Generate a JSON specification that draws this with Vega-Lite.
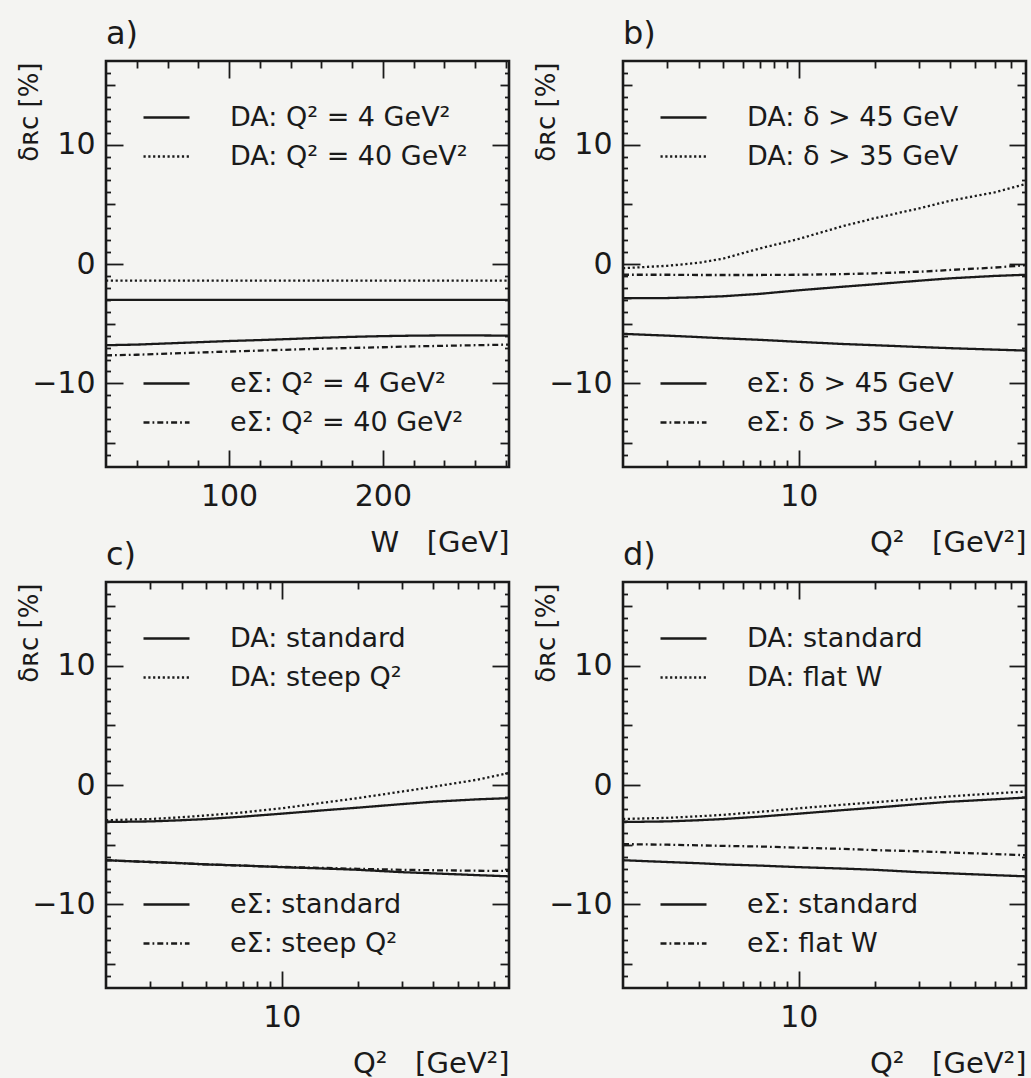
{
"$schema": "https://vega.github.io/schema/vega-lite/v6.json",
"background": "#f4f4f2",
"padding": {"left": 14, "top": 16, "right": 0, "bottom": 0},
"datasets": {
"a": [
{"x":20,"y":-3.0,"g":"DA","s":"DA: Q² = 4 GeV²"},{"x":100,"y":-3.0,"g":"DA","s":"DA: Q² = 4 GeV²"},{"x":200,"y":-3.0,"g":"DA","s":"DA: Q² = 4 GeV²"},{"x":282,"y":-3.0,"g":"DA","s":"DA: Q² = 4 GeV²"},
{"x":20,"y":-1.4,"g":"DA","s":"DA: Q² = 40 GeV²"},{"x":100,"y":-1.4,"g":"DA","s":"DA: Q² = 40 GeV²"},{"x":200,"y":-1.4,"g":"DA","s":"DA: Q² = 40 GeV²"},{"x":282,"y":-1.4,"g":"DA","s":"DA: Q² = 40 GeV²"},
{"x":20,"y":-6.8,"g":"ES","s":"eΣ: Q² = 4 GeV²"},{"x":40,"y":-6.75,"g":"ES","s":"eΣ: Q² = 4 GeV²"},{"x":60,"y":-6.65,"g":"ES","s":"eΣ: Q² = 4 GeV²"},{"x":80,"y":-6.55,"g":"ES","s":"eΣ: Q² = 4 GeV²"},{"x":100,"y":-6.45,"g":"ES","s":"eΣ: Q² = 4 GeV²"},{"x":120,"y":-6.37,"g":"ES","s":"eΣ: Q² = 4 GeV²"},{"x":140,"y":-6.28,"g":"ES","s":"eΣ: Q² = 4 GeV²"},{"x":160,"y":-6.18,"g":"ES","s":"eΣ: Q² = 4 GeV²"},{"x":180,"y":-6.1,"g":"ES","s":"eΣ: Q² = 4 GeV²"},{"x":200,"y":-6.04,"g":"ES","s":"eΣ: Q² = 4 GeV²"},{"x":220,"y":-6.0,"g":"ES","s":"eΣ: Q² = 4 GeV²"},{"x":240,"y":-5.98,"g":"ES","s":"eΣ: Q² = 4 GeV²"},{"x":260,"y":-5.98,"g":"ES","s":"eΣ: Q² = 4 GeV²"},{"x":282,"y":-6.0,"g":"ES","s":"eΣ: Q² = 4 GeV²"},
{"x":20,"y":-7.65,"g":"ES","s":"eΣ: Q² = 40 GeV²"},{"x":40,"y":-7.6,"g":"ES","s":"eΣ: Q² = 40 GeV²"},{"x":60,"y":-7.5,"g":"ES","s":"eΣ: Q² = 40 GeV²"},{"x":80,"y":-7.42,"g":"ES","s":"eΣ: Q² = 40 GeV²"},{"x":100,"y":-7.33,"g":"ES","s":"eΣ: Q² = 40 GeV²"},{"x":120,"y":-7.25,"g":"ES","s":"eΣ: Q² = 40 GeV²"},{"x":140,"y":-7.17,"g":"ES","s":"eΣ: Q² = 40 GeV²"},{"x":160,"y":-7.1,"g":"ES","s":"eΣ: Q² = 40 GeV²"},{"x":180,"y":-7.03,"g":"ES","s":"eΣ: Q² = 40 GeV²"},{"x":200,"y":-6.97,"g":"ES","s":"eΣ: Q² = 40 GeV²"},{"x":220,"y":-6.9,"g":"ES","s":"eΣ: Q² = 40 GeV²"},{"x":240,"y":-6.85,"g":"ES","s":"eΣ: Q² = 40 GeV²"},{"x":260,"y":-6.8,"g":"ES","s":"eΣ: Q² = 40 GeV²"},{"x":282,"y":-6.75,"g":"ES","s":"eΣ: Q² = 40 GeV²"}
],
"b": [
{"x":2,"y":-2.87,"g":"DA","s":"DA: δ > 45 GeV"},{"x":3,"y":-2.85,"g":"DA","s":"DA: δ > 45 GeV"},{"x":4,"y":-2.78,"g":"DA","s":"DA: δ > 45 GeV"},{"x":5,"y":-2.7,"g":"DA","s":"DA: δ > 45 GeV"},{"x":7,"y":-2.5,"g":"DA","s":"DA: δ > 45 GeV"},{"x":10,"y":-2.2,"g":"DA","s":"DA: δ > 45 GeV"},{"x":15,"y":-1.9,"g":"DA","s":"DA: δ > 45 GeV"},{"x":20,"y":-1.7,"g":"DA","s":"DA: δ > 45 GeV"},{"x":30,"y":-1.4,"g":"DA","s":"DA: δ > 45 GeV"},{"x":40,"y":-1.2,"g":"DA","s":"DA: δ > 45 GeV"},{"x":60,"y":-1.0,"g":"DA","s":"DA: δ > 45 GeV"},{"x":80,"y":-0.9,"g":"DA","s":"DA: δ > 45 GeV"},
{"x":2,"y":-0.35,"g":"DA","s":"DA: δ > 35 GeV"},{"x":3,"y":-0.15,"g":"DA","s":"DA: δ > 35 GeV"},{"x":4,"y":0.1,"g":"DA","s":"DA: δ > 35 GeV"},{"x":5,"y":0.45,"g":"DA","s":"DA: δ > 35 GeV"},{"x":7,"y":1.3,"g":"DA","s":"DA: δ > 35 GeV"},{"x":10,"y":2.1,"g":"DA","s":"DA: δ > 35 GeV"},{"x":15,"y":3.18,"g":"DA","s":"DA: δ > 35 GeV"},{"x":20,"y":3.83,"g":"DA","s":"DA: δ > 35 GeV"},{"x":30,"y":4.65,"g":"DA","s":"DA: δ > 35 GeV"},{"x":40,"y":5.3,"g":"DA","s":"DA: δ > 35 GeV"},{"x":60,"y":6.0,"g":"DA","s":"DA: δ > 35 GeV"},{"x":80,"y":6.7,"g":"DA","s":"DA: δ > 35 GeV"},
{"x":2,"y":-5.85,"g":"ES","s":"eΣ: δ > 45 GeV"},{"x":3,"y":-6.0,"g":"ES","s":"eΣ: δ > 45 GeV"},{"x":4,"y":-6.12,"g":"ES","s":"eΣ: δ > 45 GeV"},{"x":5,"y":-6.22,"g":"ES","s":"eΣ: δ > 45 GeV"},{"x":7,"y":-6.35,"g":"ES","s":"eΣ: δ > 45 GeV"},{"x":10,"y":-6.52,"g":"ES","s":"eΣ: δ > 45 GeV"},{"x":15,"y":-6.7,"g":"ES","s":"eΣ: δ > 45 GeV"},{"x":20,"y":-6.8,"g":"ES","s":"eΣ: δ > 45 GeV"},{"x":30,"y":-6.95,"g":"ES","s":"eΣ: δ > 45 GeV"},{"x":40,"y":-7.05,"g":"ES","s":"eΣ: δ > 45 GeV"},{"x":60,"y":-7.17,"g":"ES","s":"eΣ: δ > 45 GeV"},{"x":80,"y":-7.25,"g":"ES","s":"eΣ: δ > 45 GeV"},
{"x":2,"y":-0.9,"g":"ES","s":"eΣ: δ > 35 GeV"},{"x":3,"y":-0.9,"g":"ES","s":"eΣ: δ > 35 GeV"},{"x":4,"y":-0.92,"g":"ES","s":"eΣ: δ > 35 GeV"},{"x":5,"y":-0.92,"g":"ES","s":"eΣ: δ > 35 GeV"},{"x":7,"y":-0.92,"g":"ES","s":"eΣ: δ > 35 GeV"},{"x":10,"y":-0.9,"g":"ES","s":"eΣ: δ > 35 GeV"},{"x":15,"y":-0.85,"g":"ES","s":"eΣ: δ > 35 GeV"},{"x":20,"y":-0.78,"g":"ES","s":"eΣ: δ > 35 GeV"},{"x":30,"y":-0.65,"g":"ES","s":"eΣ: δ > 35 GeV"},{"x":40,"y":-0.5,"g":"ES","s":"eΣ: δ > 35 GeV"},{"x":60,"y":-0.3,"g":"ES","s":"eΣ: δ > 35 GeV"},{"x":80,"y":-0.1,"g":"ES","s":"eΣ: δ > 35 GeV"}
],
"c": [
{"x":2,"y":-3.1,"g":"DA","s":"DA: standard"},{"x":3,"y":-3.05,"g":"DA","s":"DA: standard"},{"x":4,"y":-2.95,"g":"DA","s":"DA: standard"},{"x":5,"y":-2.85,"g":"DA","s":"DA: standard"},{"x":7,"y":-2.65,"g":"DA","s":"DA: standard"},{"x":10,"y":-2.4,"g":"DA","s":"DA: standard"},{"x":15,"y":-2.1,"g":"DA","s":"DA: standard"},{"x":20,"y":-1.9,"g":"DA","s":"DA: standard"},{"x":30,"y":-1.6,"g":"DA","s":"DA: standard"},{"x":40,"y":-1.4,"g":"DA","s":"DA: standard"},{"x":60,"y":-1.2,"g":"DA","s":"DA: standard"},{"x":80,"y":-1.1,"g":"DA","s":"DA: standard"},
{"x":2,"y":-2.95,"g":"DA","s":"DA: steep Q²"},{"x":3,"y":-2.85,"g":"DA","s":"DA: steep Q²"},{"x":4,"y":-2.7,"g":"DA","s":"DA: steep Q²"},{"x":5,"y":-2.55,"g":"DA","s":"DA: steep Q²"},{"x":7,"y":-2.3,"g":"DA","s":"DA: steep Q²"},{"x":10,"y":-1.95,"g":"DA","s":"DA: steep Q²"},{"x":15,"y":-1.45,"g":"DA","s":"DA: steep Q²"},{"x":20,"y":-1.1,"g":"DA","s":"DA: steep Q²"},{"x":30,"y":-0.55,"g":"DA","s":"DA: steep Q²"},{"x":40,"y":-0.15,"g":"DA","s":"DA: steep Q²"},{"x":60,"y":0.45,"g":"DA","s":"DA: steep Q²"},{"x":80,"y":1.0,"g":"DA","s":"DA: steep Q²"},
{"x":2,"y":-6.3,"g":"ES","s":"eΣ: standard"},{"x":3,"y":-6.45,"g":"ES","s":"eΣ: standard"},{"x":4,"y":-6.55,"g":"ES","s":"eΣ: standard"},{"x":5,"y":-6.65,"g":"ES","s":"eΣ: standard"},{"x":7,"y":-6.75,"g":"ES","s":"eΣ: standard"},{"x":10,"y":-6.88,"g":"ES","s":"eΣ: standard"},{"x":15,"y":-7.0,"g":"ES","s":"eΣ: standard"},{"x":20,"y":-7.1,"g":"ES","s":"eΣ: standard"},{"x":30,"y":-7.3,"g":"ES","s":"eΣ: standard"},{"x":40,"y":-7.4,"g":"ES","s":"eΣ: standard"},{"x":60,"y":-7.55,"g":"ES","s":"eΣ: standard"},{"x":80,"y":-7.65,"g":"ES","s":"eΣ: standard"},
{"x":2,"y":-6.3,"g":"ES","s":"eΣ: steep Q²"},{"x":3,"y":-6.45,"g":"ES","s":"eΣ: steep Q²"},{"x":4,"y":-6.55,"g":"ES","s":"eΣ: steep Q²"},{"x":5,"y":-6.65,"g":"ES","s":"eΣ: steep Q²"},{"x":7,"y":-6.75,"g":"ES","s":"eΣ: steep Q²"},{"x":10,"y":-6.86,"g":"ES","s":"eΣ: steep Q²"},{"x":15,"y":-6.95,"g":"ES","s":"eΣ: steep Q²"},{"x":20,"y":-7.02,"g":"ES","s":"eΣ: steep Q²"},{"x":30,"y":-7.1,"g":"ES","s":"eΣ: steep Q²"},{"x":40,"y":-7.14,"g":"ES","s":"eΣ: steep Q²"},{"x":60,"y":-7.18,"g":"ES","s":"eΣ: steep Q²"},{"x":80,"y":-7.2,"g":"ES","s":"eΣ: steep Q²"}
],
"d": [
{"x":2,"y":-3.1,"g":"DA","s":"DA: standard"},{"x":3,"y":-3.05,"g":"DA","s":"DA: standard"},{"x":4,"y":-2.95,"g":"DA","s":"DA: standard"},{"x":5,"y":-2.85,"g":"DA","s":"DA: standard"},{"x":7,"y":-2.65,"g":"DA","s":"DA: standard"},{"x":10,"y":-2.4,"g":"DA","s":"DA: standard"},{"x":15,"y":-2.1,"g":"DA","s":"DA: standard"},{"x":20,"y":-1.9,"g":"DA","s":"DA: standard"},{"x":30,"y":-1.6,"g":"DA","s":"DA: standard"},{"x":40,"y":-1.4,"g":"DA","s":"DA: standard"},{"x":60,"y":-1.2,"g":"DA","s":"DA: standard"},{"x":80,"y":-1.05,"g":"DA","s":"DA: standard"},
{"x":2,"y":-2.85,"g":"DA","s":"DA: flat W"},{"x":3,"y":-2.75,"g":"DA","s":"DA: flat W"},{"x":4,"y":-2.62,"g":"DA","s":"DA: flat W"},{"x":5,"y":-2.5,"g":"DA","s":"DA: flat W"},{"x":7,"y":-2.25,"g":"DA","s":"DA: flat W"},{"x":10,"y":-1.95,"g":"DA","s":"DA: flat W"},{"x":15,"y":-1.65,"g":"DA","s":"DA: flat W"},{"x":20,"y":-1.45,"g":"DA","s":"DA: flat W"},{"x":30,"y":-1.15,"g":"DA","s":"DA: flat W"},{"x":40,"y":-0.95,"g":"DA","s":"DA: flat W"},{"x":60,"y":-0.7,"g":"DA","s":"DA: flat W"},{"x":80,"y":-0.55,"g":"DA","s":"DA: flat W"},
{"x":2,"y":-6.3,"g":"ES","s":"eΣ: standard"},{"x":3,"y":-6.45,"g":"ES","s":"eΣ: standard"},{"x":4,"y":-6.55,"g":"ES","s":"eΣ: standard"},{"x":5,"y":-6.65,"g":"ES","s":"eΣ: standard"},{"x":7,"y":-6.75,"g":"ES","s":"eΣ: standard"},{"x":10,"y":-6.88,"g":"ES","s":"eΣ: standard"},{"x":15,"y":-7.0,"g":"ES","s":"eΣ: standard"},{"x":20,"y":-7.1,"g":"ES","s":"eΣ: standard"},{"x":30,"y":-7.3,"g":"ES","s":"eΣ: standard"},{"x":40,"y":-7.4,"g":"ES","s":"eΣ: standard"},{"x":60,"y":-7.55,"g":"ES","s":"eΣ: standard"},{"x":80,"y":-7.65,"g":"ES","s":"eΣ: standard"},
{"x":2,"y":-4.95,"g":"ES","s":"eΣ: flat W"},{"x":3,"y":-5.0,"g":"ES","s":"eΣ: flat W"},{"x":4,"y":-5.05,"g":"ES","s":"eΣ: flat W"},{"x":5,"y":-5.1,"g":"ES","s":"eΣ: flat W"},{"x":7,"y":-5.15,"g":"ES","s":"eΣ: flat W"},{"x":10,"y":-5.25,"g":"ES","s":"eΣ: flat W"},{"x":15,"y":-5.35,"g":"ES","s":"eΣ: flat W"},{"x":20,"y":-5.45,"g":"ES","s":"eΣ: flat W"},{"x":30,"y":-5.55,"g":"ES","s":"eΣ: flat W"},{"x":40,"y":-5.65,"g":"ES","s":"eΣ: flat W"},{"x":60,"y":-5.78,"g":"ES","s":"eΣ: flat W"},{"x":80,"y":-5.88,"g":"ES","s":"eΣ: flat W"}
]
},
"columns": 2,
"spacing": {"column": 114, "row": 115},
"bounds": "flush",
"resolve": {"scale": {"x": "independent", "y": "independent", "strokeDash": "independent"}, "axis": {"x": "independent", "y": "independent"}, "legend": {"strokeDash": "independent"}},
"concat": [
{
"width": 403, "height": 406, "data": {"name": "a"}, "title": {"text": "a)"},
"resolve": {"scale": {"strokeDash": "independent"}, "axis": {"x": "independent", "y": "independent"}, "legend": {"strokeDash": "independent"}},
"layer": [
{"transform": [{"filter": "datum.g === 'DA'"}], "mark": {"type": "line", "strokeWidth": 2.3, "color": "#1a1a1a"},
"encoding": {
"x": {"field": "x", "type": "quantitative", "scale": {"domain": [20, 282], "nice": false, "zero": false}, "axis": {"orient": "bottom", "values": [100, 200], "ticks": false, "tickSize": 0, "labelFontSize": 30, "labelPadding": 14, "labelFlush": false, "title": "W\u00a0\u00a0\u00a0[GeV]", "titleFontSize": 29, "titleAnchor": "end", "titleBaseline": "alphabetic", "titleY": 84}},
"y": {"field": "y", "type": "quantitative", "scale": {"domain": [-17, 17], "nice": false, "zero": false}, "axis": {"orient": "left", "values": [-10, 0, 10], "ticks": false, "tickSize": 0, "labelFontSize": 30, "labelPadding": 11, "title": "δʀᴄ [%]", "titleFontSize": 26, "titleAngle": 270, "titleAlign": "right", "titleBaseline": "bottom", "titleX": -64, "titleY": 1}},
"strokeDash": {"field": "s", "type": "nominal", "scale": {"domain": ["DA: Q² = 4 GeV²", "DA: Q² = 40 GeV²"], "range": [[1, 0], [2.2, 2.6]]}, "legend": {"orient": "none", "legendX": 36, "legendY": 32, "title": null, "symbolType": "stroke", "symbolSize": 2116, "symbolStrokeWidth": 2.3, "labelFontSize": 27, "labelOffset": 39, "rowPadding": 1, "padding": 0, "labelLimit": 500}}
}},
{"transform": [{"filter": "datum.g === 'ES'"}], "mark": {"type": "line", "strokeWidth": 2.3, "color": "#1a1a1a"},
"encoding": {
"x": {"field": "x", "type": "quantitative", "scale": {"domain": [20, 282], "nice": false, "zero": false}, "axis": {"orient": "bottom", "values": [100, 200], "labels": false, "tickSize": 17, "offset": -17, "title": null}},
"y": {"field": "y", "type": "quantitative", "scale": {"domain": [-17, 17], "nice": false, "zero": false}, "axis": {"orient": "left", "values": [-10, 0, 10], "labels": false, "tickSize": 17, "offset": -17, "title": null}},
"strokeDash": {"field": "s", "type": "nominal", "scale": {"domain": ["eΣ: Q² = 4 GeV²", "eΣ: Q² = 40 GeV²"], "range": [[1, 0], [6, 3, 1.8, 3]]}, "legend": {"orient": "none", "legendX": 36, "legendY": 298, "title": null, "symbolType": "stroke", "symbolSize": 2116, "symbolStrokeWidth": 2.3, "labelFontSize": 27, "labelOffset": 39, "rowPadding": 1, "padding": 0, "labelLimit": 500}}
}},
{"mark": {"type": "point", "opacity": 0}, "encoding": {
"x": {"field": "x", "type": "quantitative", "scale": {"domain": [20, 282], "nice": false, "zero": false}, "axis": {"orient": "bottom", "values": [40, 60, 80, 120, 140, 160, 180, 220, 240, 260, 280], "labels": false, "tickSize": 7, "offset": -7, "title": null}},
"y": {"field": "y", "type": "quantitative", "scale": {"domain": [-17, 17], "nice": false, "zero": false}, "axis": {"orient": "left", "values": [-15, -5, 5, 15], "labels": false, "tickSize": 9, "offset": -9, "title": null}}}},
{"mark": {"type": "point", "opacity": 0}, "encoding": {
"x": {"field": "x", "type": "quantitative", "scale": {"domain": [20, 282], "nice": false, "zero": false}, "axis": {"orient": "top", "values": [100, 200], "labels": false, "tickSize": 17, "offset": -17, "title": null}},
"y": {"field": "y", "type": "quantitative", "scale": {"domain": [-17, 17], "nice": false, "zero": false}, "axis": {"orient": "left", "values": [-16,-14,-13,-12,-11,-9,-8,-7,-6,-4,-3,-2,-1,1,2,3,4,6,7,8,9,11,12,13,14,16], "labels": false, "tickSize": 4.5, "offset": -4.5, "title": null}}}},
{"mark": {"type": "point", "opacity": 0}, "encoding": {
"x": {"field": "x", "type": "quantitative", "scale": {"domain": [20, 282], "nice": false, "zero": false}, "axis": {"orient": "top", "values": [40, 60, 80, 120, 140, 160, 180, 220, 240, 260, 280], "labels": false, "tickSize": 7, "offset": -7, "title": null}},
"y": {"field": "y", "type": "quantitative", "scale": {"domain": [-17, 17], "nice": false, "zero": false}, "axis": {"orient": "right", "values": [-10, 0, 10], "labels": false, "tickSize": 17, "offset": -17, "title": null}}}},
{"mark": {"type": "point", "opacity": 0}, "encoding": {
"x": {"field": "x", "type": "quantitative", "scale": {"domain": [20, 282], "nice": false, "zero": false}, "axis": null},
"y": {"field": "y", "type": "quantitative", "scale": {"domain": [-17, 17], "nice": false, "zero": false}, "axis": {"orient": "right", "values": [-15, -5, 5, 15], "labels": false, "tickSize": 9, "offset": -9, "title": null}}}},
{"mark": {"type": "point", "opacity": 0}, "encoding": {
"x": {"field": "x", "type": "quantitative", "scale": {"domain": [20, 282], "nice": false, "zero": false}, "axis": null},
"y": {"field": "y", "type": "quantitative", "scale": {"domain": [-17, 17], "nice": false, "zero": false}, "axis": {"orient": "right", "values": [-16,-14,-13,-12,-11,-9,-8,-7,-6,-4,-3,-2,-1,1,2,3,4,6,7,8,9,11,12,13,14,16], "labels": false, "tickSize": 4.5, "offset": -4.5, "title": null}}}}
]
},
{
"width": 403, "height": 406, "data": {"name": "b"}, "title": {"text": "b)"},
"resolve": {"scale": {"strokeDash": "independent"}, "axis": {"x": "independent", "y": "independent"}, "legend": {"strokeDash": "independent"}},
"layer": [
{"transform": [{"filter": "datum.g === 'DA'"}], "mark": {"type": "line", "strokeWidth": 2.3, "color": "#1a1a1a"},
"encoding": {
"x": {"field": "x", "type": "quantitative", "scale": {"type": "log", "domain": [2, 80], "nice": false}, "axis": {"orient": "bottom", "values": [10], "format": "d", "ticks": false, "tickSize": 0, "labelFontSize": 30, "labelPadding": 14, "labelFlush": false, "title": "Q²\u00a0\u00a0\u00a0[GeV²]", "titleFontSize": 29, "titleAnchor": "end", "titleBaseline": "alphabetic", "titleY": 84}},
"y": {"field": "y", "type": "quantitative", "scale": {"domain": [-17, 17], "nice": false, "zero": false}, "axis": {"orient": "left", "values": [-10, 0, 10], "ticks": false, "tickSize": 0, "labelFontSize": 30, "labelPadding": 11, "title": "δʀᴄ [%]", "titleFontSize": 26, "titleAngle": 270, "titleAlign": "right", "titleBaseline": "bottom", "titleX": -64, "titleY": 1}},
"strokeDash": {"field": "s", "type": "nominal", "scale": {"domain": ["DA: δ > 45 GeV", "DA: δ > 35 GeV"], "range": [[1, 0], [2.2, 2.6]]}, "legend": {"orient": "none", "legendX": 36, "legendY": 32, "title": null, "symbolType": "stroke", "symbolSize": 2116, "symbolStrokeWidth": 2.3, "labelFontSize": 27, "labelOffset": 39, "rowPadding": 1, "padding": 0, "labelLimit": 500}}
}},
{"transform": [{"filter": "datum.g === 'ES'"}], "mark": {"type": "line", "strokeWidth": 2.3, "color": "#1a1a1a"},
"encoding": {
"x": {"field": "x", "type": "quantitative", "scale": {"type": "log", "domain": [2, 80], "nice": false}, "axis": {"orient": "bottom", "values": [10], "labels": false, "tickSize": 17, "offset": -17, "title": null}},
"y": {"field": "y", "type": "quantitative", "scale": {"domain": [-17, 17], "nice": false, "zero": false}, "axis": {"orient": "left", "values": [-10, 0, 10], "labels": false, "tickSize": 17, "offset": -17, "title": null}},
"strokeDash": {"field": "s", "type": "nominal", "scale": {"domain": ["eΣ: δ > 45 GeV", "eΣ: δ > 35 GeV"], "range": [[1, 0], [6, 3, 1.8, 3]]}, "legend": {"orient": "none", "legendX": 36, "legendY": 298, "title": null, "symbolType": "stroke", "symbolSize": 2116, "symbolStrokeWidth": 2.3, "labelFontSize": 27, "labelOffset": 39, "rowPadding": 1, "padding": 0, "labelLimit": 500}}
}},
{"mark": {"type": "point", "opacity": 0}, "encoding": {
"x": {"field": "x", "type": "quantitative", "scale": {"type": "log", "domain": [2, 80], "nice": false}, "axis": {"orient": "bottom", "values": [3,4,5,6,7,8,9,20,30,40,50,60,70], "labels": false, "tickSize": 7, "offset": -7, "title": null}},
"y": {"field": "y", "type": "quantitative", "scale": {"domain": [-17, 17], "nice": false, "zero": false}, "axis": {"orient": "left", "values": [-15, -5, 5, 15], "labels": false, "tickSize": 9, "offset": -9, "title": null}}}},
{"mark": {"type": "point", "opacity": 0}, "encoding": {
"x": {"field": "x", "type": "quantitative", "scale": {"type": "log", "domain": [2, 80], "nice": false}, "axis": {"orient": "top", "values": [10], "labels": false, "tickSize": 17, "offset": -17, "title": null}},
"y": {"field": "y", "type": "quantitative", "scale": {"domain": [-17, 17], "nice": false, "zero": false}, "axis": {"orient": "left", "values": [-16,-14,-13,-12,-11,-9,-8,-7,-6,-4,-3,-2,-1,1,2,3,4,6,7,8,9,11,12,13,14,16], "labels": false, "tickSize": 4.5, "offset": -4.5, "title": null}}}},
{"mark": {"type": "point", "opacity": 0}, "encoding": {
"x": {"field": "x", "type": "quantitative", "scale": {"type": "log", "domain": [2, 80], "nice": false}, "axis": {"orient": "top", "values": [3,4,5,6,7,8,9,20,30,40,50,60,70], "labels": false, "tickSize": 7, "offset": -7, "title": null}},
"y": {"field": "y", "type": "quantitative", "scale": {"domain": [-17, 17], "nice": false, "zero": false}, "axis": {"orient": "right", "values": [-10, 0, 10], "labels": false, "tickSize": 17, "offset": -17, "title": null}}}},
{"mark": {"type": "point", "opacity": 0}, "encoding": {
"x": {"field": "x", "type": "quantitative", "scale": {"type": "log", "domain": [2, 80], "nice": false}, "axis": null},
"y": {"field": "y", "type": "quantitative", "scale": {"domain": [-17, 17], "nice": false, "zero": false}, "axis": {"orient": "right", "values": [-15, -5, 5, 15], "labels": false, "tickSize": 9, "offset": -9, "title": null}}}},
{"mark": {"type": "point", "opacity": 0}, "encoding": {
"x": {"field": "x", "type": "quantitative", "scale": {"type": "log", "domain": [2, 80], "nice": false}, "axis": null},
"y": {"field": "y", "type": "quantitative", "scale": {"domain": [-17, 17], "nice": false, "zero": false}, "axis": {"orient": "right", "values": [-16,-14,-13,-12,-11,-9,-8,-7,-6,-4,-3,-2,-1,1,2,3,4,6,7,8,9,11,12,13,14,16], "labels": false, "tickSize": 4.5, "offset": -4.5, "title": null}}}}
]
},
{
"width": 403, "height": 406, "data": {"name": "c"}, "title": {"text": "c)"},
"resolve": {"scale": {"strokeDash": "independent"}, "axis": {"x": "independent", "y": "independent"}, "legend": {"strokeDash": "independent"}},
"layer": [
{"transform": [{"filter": "datum.g === 'DA'"}], "mark": {"type": "line", "strokeWidth": 2.3, "color": "#1a1a1a"},
"encoding": {
"x": {"field": "x", "type": "quantitative", "scale": {"type": "log", "domain": [2, 80], "nice": false}, "axis": {"orient": "bottom", "values": [10], "format": "d", "ticks": false, "tickSize": 0, "labelFontSize": 30, "labelPadding": 14, "labelFlush": false, "title": "Q²\u00a0\u00a0\u00a0[GeV²]", "titleFontSize": 29, "titleAnchor": "end", "titleBaseline": "alphabetic", "titleY": 84}},
"y": {"field": "y", "type": "quantitative", "scale": {"domain": [-17, 17], "nice": false, "zero": false}, "axis": {"orient": "left", "values": [-10, 0, 10], "ticks": false, "tickSize": 0, "labelFontSize": 30, "labelPadding": 11, "title": "δʀᴄ [%]", "titleFontSize": 26, "titleAngle": 270, "titleAlign": "right", "titleBaseline": "bottom", "titleX": -64, "titleY": 1}},
"strokeDash": {"field": "s", "type": "nominal", "scale": {"domain": ["DA: standard", "DA: steep Q²"], "range": [[1, 0], [2.2, 2.6]]}, "legend": {"orient": "none", "legendX": 36, "legendY": 32, "title": null, "symbolType": "stroke", "symbolSize": 2116, "symbolStrokeWidth": 2.3, "labelFontSize": 27, "labelOffset": 39, "rowPadding": 1, "padding": 0, "labelLimit": 500}}
}},
{"transform": [{"filter": "datum.g === 'ES'"}], "mark": {"type": "line", "strokeWidth": 2.3, "color": "#1a1a1a"},
"encoding": {
"x": {"field": "x", "type": "quantitative", "scale": {"type": "log", "domain": [2, 80], "nice": false}, "axis": {"orient": "bottom", "values": [10], "labels": false, "tickSize": 17, "offset": -17, "title": null}},
"y": {"field": "y", "type": "quantitative", "scale": {"domain": [-17, 17], "nice": false, "zero": false}, "axis": {"orient": "left", "values": [-10, 0, 10], "labels": false, "tickSize": 17, "offset": -17, "title": null}},
"strokeDash": {"field": "s", "type": "nominal", "scale": {"domain": ["eΣ: standard", "eΣ: steep Q²"], "range": [[1, 0], [6, 3, 1.8, 3]]}, "legend": {"orient": "none", "legendX": 36, "legendY": 298, "title": null, "symbolType": "stroke", "symbolSize": 2116, "symbolStrokeWidth": 2.3, "labelFontSize": 27, "labelOffset": 39, "rowPadding": 1, "padding": 0, "labelLimit": 500}}
}},
{"mark": {"type": "point", "opacity": 0}, "encoding": {
"x": {"field": "x", "type": "quantitative", "scale": {"type": "log", "domain": [2, 80], "nice": false}, "axis": {"orient": "bottom", "values": [3,4,5,6,7,8,9,20,30,40,50,60,70], "labels": false, "tickSize": 7, "offset": -7, "title": null}},
"y": {"field": "y", "type": "quantitative", "scale": {"domain": [-17, 17], "nice": false, "zero": false}, "axis": {"orient": "left", "values": [-15, -5, 5, 15], "labels": false, "tickSize": 9, "offset": -9, "title": null}}}},
{"mark": {"type": "point", "opacity": 0}, "encoding": {
"x": {"field": "x", "type": "quantitative", "scale": {"type": "log", "domain": [2, 80], "nice": false}, "axis": {"orient": "top", "values": [10], "labels": false, "tickSize": 17, "offset": -17, "title": null}},
"y": {"field": "y", "type": "quantitative", "scale": {"domain": [-17, 17], "nice": false, "zero": false}, "axis": {"orient": "left", "values": [-16,-14,-13,-12,-11,-9,-8,-7,-6,-4,-3,-2,-1,1,2,3,4,6,7,8,9,11,12,13,14,16], "labels": false, "tickSize": 4.5, "offset": -4.5, "title": null}}}},
{"mark": {"type": "point", "opacity": 0}, "encoding": {
"x": {"field": "x", "type": "quantitative", "scale": {"type": "log", "domain": [2, 80], "nice": false}, "axis": {"orient": "top", "values": [3,4,5,6,7,8,9,20,30,40,50,60,70], "labels": false, "tickSize": 7, "offset": -7, "title": null}},
"y": {"field": "y", "type": "quantitative", "scale": {"domain": [-17, 17], "nice": false, "zero": false}, "axis": {"orient": "right", "values": [-10, 0, 10], "labels": false, "tickSize": 17, "offset": -17, "title": null}}}},
{"mark": {"type": "point", "opacity": 0}, "encoding": {
"x": {"field": "x", "type": "quantitative", "scale": {"type": "log", "domain": [2, 80], "nice": false}, "axis": null},
"y": {"field": "y", "type": "quantitative", "scale": {"domain": [-17, 17], "nice": false, "zero": false}, "axis": {"orient": "right", "values": [-15, -5, 5, 15], "labels": false, "tickSize": 9, "offset": -9, "title": null}}}},
{"mark": {"type": "point", "opacity": 0}, "encoding": {
"x": {"field": "x", "type": "quantitative", "scale": {"type": "log", "domain": [2, 80], "nice": false}, "axis": null},
"y": {"field": "y", "type": "quantitative", "scale": {"domain": [-17, 17], "nice": false, "zero": false}, "axis": {"orient": "right", "values": [-16,-14,-13,-12,-11,-9,-8,-7,-6,-4,-3,-2,-1,1,2,3,4,6,7,8,9,11,12,13,14,16], "labels": false, "tickSize": 4.5, "offset": -4.5, "title": null}}}}
]
},
{
"width": 403, "height": 406, "data": {"name": "d"}, "title": {"text": "d)"},
"resolve": {"scale": {"strokeDash": "independent"}, "axis": {"x": "independent", "y": "independent"}, "legend": {"strokeDash": "independent"}},
"layer": [
{"transform": [{"filter": "datum.g === 'DA'"}], "mark": {"type": "line", "strokeWidth": 2.3, "color": "#1a1a1a"},
"encoding": {
"x": {"field": "x", "type": "quantitative", "scale": {"type": "log", "domain": [2, 80], "nice": false}, "axis": {"orient": "bottom", "values": [10], "format": "d", "ticks": false, "tickSize": 0, "labelFontSize": 30, "labelPadding": 14, "labelFlush": false, "title": "Q²\u00a0\u00a0\u00a0[GeV²]", "titleFontSize": 29, "titleAnchor": "end", "titleBaseline": "alphabetic", "titleY": 84}},
"y": {"field": "y", "type": "quantitative", "scale": {"domain": [-17, 17], "nice": false, "zero": false}, "axis": {"orient": "left", "values": [-10, 0, 10], "ticks": false, "tickSize": 0, "labelFontSize": 30, "labelPadding": 11, "title": "δʀᴄ [%]", "titleFontSize": 26, "titleAngle": 270, "titleAlign": "right", "titleBaseline": "bottom", "titleX": -64, "titleY": 1}},
"strokeDash": {"field": "s", "type": "nominal", "scale": {"domain": ["DA: standard", "DA: flat W"], "range": [[1, 0], [2.2, 2.6]]}, "legend": {"orient": "none", "legendX": 36, "legendY": 32, "title": null, "symbolType": "stroke", "symbolSize": 2116, "symbolStrokeWidth": 2.3, "labelFontSize": 27, "labelOffset": 39, "rowPadding": 1, "padding": 0, "labelLimit": 500}}
}},
{"transform": [{"filter": "datum.g === 'ES'"}], "mark": {"type": "line", "strokeWidth": 2.3, "color": "#1a1a1a"},
"encoding": {
"x": {"field": "x", "type": "quantitative", "scale": {"type": "log", "domain": [2, 80], "nice": false}, "axis": {"orient": "bottom", "values": [10], "labels": false, "tickSize": 17, "offset": -17, "title": null}},
"y": {"field": "y", "type": "quantitative", "scale": {"domain": [-17, 17], "nice": false, "zero": false}, "axis": {"orient": "left", "values": [-10, 0, 10], "labels": false, "tickSize": 17, "offset": -17, "title": null}},
"strokeDash": {"field": "s", "type": "nominal", "scale": {"domain": ["eΣ: standard", "eΣ: flat W"], "range": [[1, 0], [6, 3, 1.8, 3]]}, "legend": {"orient": "none", "legendX": 36, "legendY": 298, "title": null, "symbolType": "stroke", "symbolSize": 2116, "symbolStrokeWidth": 2.3, "labelFontSize": 27, "labelOffset": 39, "rowPadding": 1, "padding": 0, "labelLimit": 500}}
}},
{"mark": {"type": "point", "opacity": 0}, "encoding": {
"x": {"field": "x", "type": "quantitative", "scale": {"type": "log", "domain": [2, 80], "nice": false}, "axis": {"orient": "bottom", "values": [3,4,5,6,7,8,9,20,30,40,50,60,70], "labels": false, "tickSize": 7, "offset": -7, "title": null}},
"y": {"field": "y", "type": "quantitative", "scale": {"domain": [-17, 17], "nice": false, "zero": false}, "axis": {"orient": "left", "values": [-15, -5, 5, 15], "labels": false, "tickSize": 9, "offset": -9, "title": null}}}},
{"mark": {"type": "point", "opacity": 0}, "encoding": {
"x": {"field": "x", "type": "quantitative", "scale": {"type": "log", "domain": [2, 80], "nice": false}, "axis": {"orient": "top", "values": [10], "labels": false, "tickSize": 17, "offset": -17, "title": null}},
"y": {"field": "y", "type": "quantitative", "scale": {"domain": [-17, 17], "nice": false, "zero": false}, "axis": {"orient": "left", "values": [-16,-14,-13,-12,-11,-9,-8,-7,-6,-4,-3,-2,-1,1,2,3,4,6,7,8,9,11,12,13,14,16], "labels": false, "tickSize": 4.5, "offset": -4.5, "title": null}}}},
{"mark": {"type": "point", "opacity": 0}, "encoding": {
"x": {"field": "x", "type": "quantitative", "scale": {"type": "log", "domain": [2, 80], "nice": false}, "axis": {"orient": "top", "values": [3,4,5,6,7,8,9,20,30,40,50,60,70], "labels": false, "tickSize": 7, "offset": -7, "title": null}},
"y": {"field": "y", "type": "quantitative", "scale": {"domain": [-17, 17], "nice": false, "zero": false}, "axis": {"orient": "right", "values": [-10, 0, 10], "labels": false, "tickSize": 17, "offset": -17, "title": null}}}},
{"mark": {"type": "point", "opacity": 0}, "encoding": {
"x": {"field": "x", "type": "quantitative", "scale": {"type": "log", "domain": [2, 80], "nice": false}, "axis": null},
"y": {"field": "y", "type": "quantitative", "scale": {"domain": [-17, 17], "nice": false, "zero": false}, "axis": {"orient": "right", "values": [-15, -5, 5, 15], "labels": false, "tickSize": 9, "offset": -9, "title": null}}}},
{"mark": {"type": "point", "opacity": 0}, "encoding": {
"x": {"field": "x", "type": "quantitative", "scale": {"type": "log", "domain": [2, 80], "nice": false}, "axis": null},
"y": {"field": "y", "type": "quantitative", "scale": {"domain": [-17, 17], "nice": false, "zero": false}, "axis": {"orient": "right", "values": [-16,-14,-13,-12,-11,-9,-8,-7,-6,-4,-3,-2,-1,1,2,3,4,6,7,8,9,11,12,13,14,16], "labels": false, "tickSize": 4.5, "offset": -4.5, "title": null}}}}
]
}
],
"config": {
"font": "DejaVu Sans",
"view": {"stroke": "#1a1a1a", "strokeWidth": 2.6},
"axis": {"grid": false, "domain": false, "tickColor": "#1a1a1a", "tickWidth": 1.8, "labelColor": "#1a1a1a", "titleColor": "#1a1a1a", "labelFont": "DejaVu Sans", "titleFont": "DejaVu Sans", "titleFontWeight": "normal"},
"legend": {"labelFont": "DejaVu Sans", "labelColor": "#1a1a1a", "symbolStrokeColor": "#1a1a1a"},
"title": {"font": "DejaVu Sans", "fontSize": 32, "fontWeight": "normal", "color": "#1a1a1a", "anchor": "start", "frame": "group", "offset": 9}
}
}
